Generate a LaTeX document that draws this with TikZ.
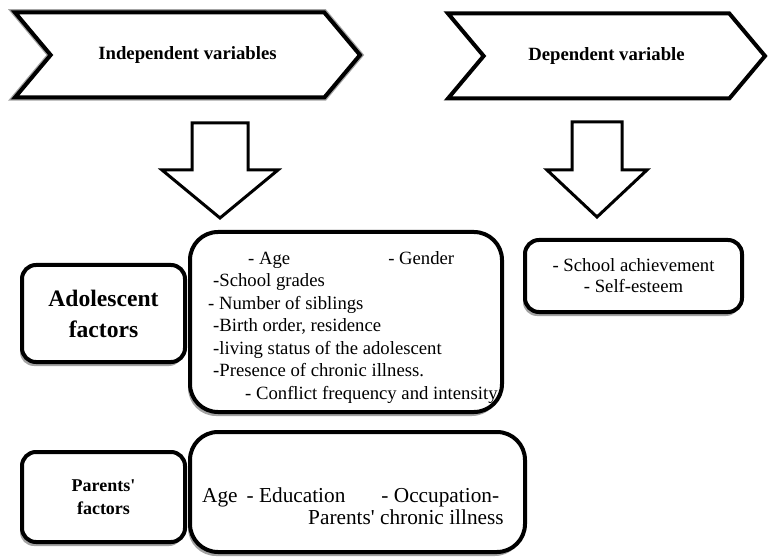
\documentclass[tikz,border=0pt]{standalone}
\usepackage{fontspec}
\setmainfont{Liberation Serif}[BoldFont={Liberation Serif Bold}]
\usetikzlibrary{shapes.symbols, shadows, positioning}
\definecolor{shadowgray}{HTML}{A3A3A3}

\begin{document}
\begin{tikzpicture}[x=1pt, y=-1pt,
    chevron/.style={signal, signal from=west, signal to=east,
      signal pointer angle=100, draw, line width=4pt, fill=white,
      minimum height=85pt, inner sep=0pt,
      font=\fontsize{18.7}{22}\selectfont\bfseries},
    factorbox/.style={draw, line width=4pt, fill=white, rounded corners=14pt,
      inner sep=0pt, align=center,
      drop shadow={shadow xshift=-2pt, shadow yshift=-4pt, fill=shadowgray, opacity=1}},
    listbox/.style={factorbox, rounded corners=28pt},
    listtext/.style={inner sep=0pt, align=left, anchor=base west,
      font=\fontsize{18.7}{22.5}\selectfont},
    blockarrow/.style={draw, line width=3pt, fill=white, line join=miter}
  ]
  \useasboundingbox (0,0) rectangle (772,559);

  % variable headings
  \node[chevron, minimum width=345pt,
    preaction={draw=shadowgray, line width=6.5pt}] (indep) at (187.5,55) {Independent variables};
  \node[chevron, minimum width=317pt] (dep) at (606.5,56) {Dependent variable};

  % block arrows
  \draw[blockarrow] (192,123) -- (248,123) -- (248,170) -- (278,170)
    -- (220,218) -- (162,170) -- (192,170) -- cycle;
  \draw[blockarrow] (572,122) -- (622,122) -- (622,170) -- (647,170)
    -- (597,217) -- (547,170) -- (572,170) -- cycle;

  % adolescent factors
  \node[factorbox, minimum width=163pt, minimum height=97pt,
    font=\fontsize{23.6}{31}\selectfont\bfseries] (adol) at (103.5,313.5) {Adolescent\\factors};
  \node[listbox, minimum width=312pt, minimum height=180pt] (adolbox) at (346,322) {};
  % base of a multi-line node is its last line
  \node[listtext] (adollist) at (208,399) {%
    \hspace*{40pt}- Age\hspace{98pt}- Gender\\
    \hspace*{5pt}-School grades\\
    - Number of siblings\\
    \hspace*{5pt}-Birth order, residence\\
    \hspace*{5pt}-living status of the adolescent\\
    \hspace*{5pt}-Presence of chronic illness.\\
    \hspace*{37pt}- Conflict frequency and intensity};

  % dependent outcomes
  \node[factorbox, minimum width=217pt, minimum height=72pt,
    font=\fontsize{18.7}{21}\selectfont] (depbox) at (633.5,276) {- School achievement\\- Self-esteem};

  % parents' factors
  \node[factorbox, minimum width=163pt, minimum height=90pt,
    font=\fontsize{18}{23}\selectfont\bfseries] (par) at (103.5,497) {Parents\textquotesingle\\factors};
  \node[listbox, minimum width=335pt, minimum height=120pt] (parbox) at (357.5,492) {};
  \node[listtext, font=\fontsize{21.3}{22}\selectfont] (parlist) at (202,524) {%
    Age\hspace{9pt}- Education\hspace{36pt}- Occupation-\\
    \hspace*{106pt}Parents\textquotesingle{} chronic illness};
\end{tikzpicture}
\end{document}
